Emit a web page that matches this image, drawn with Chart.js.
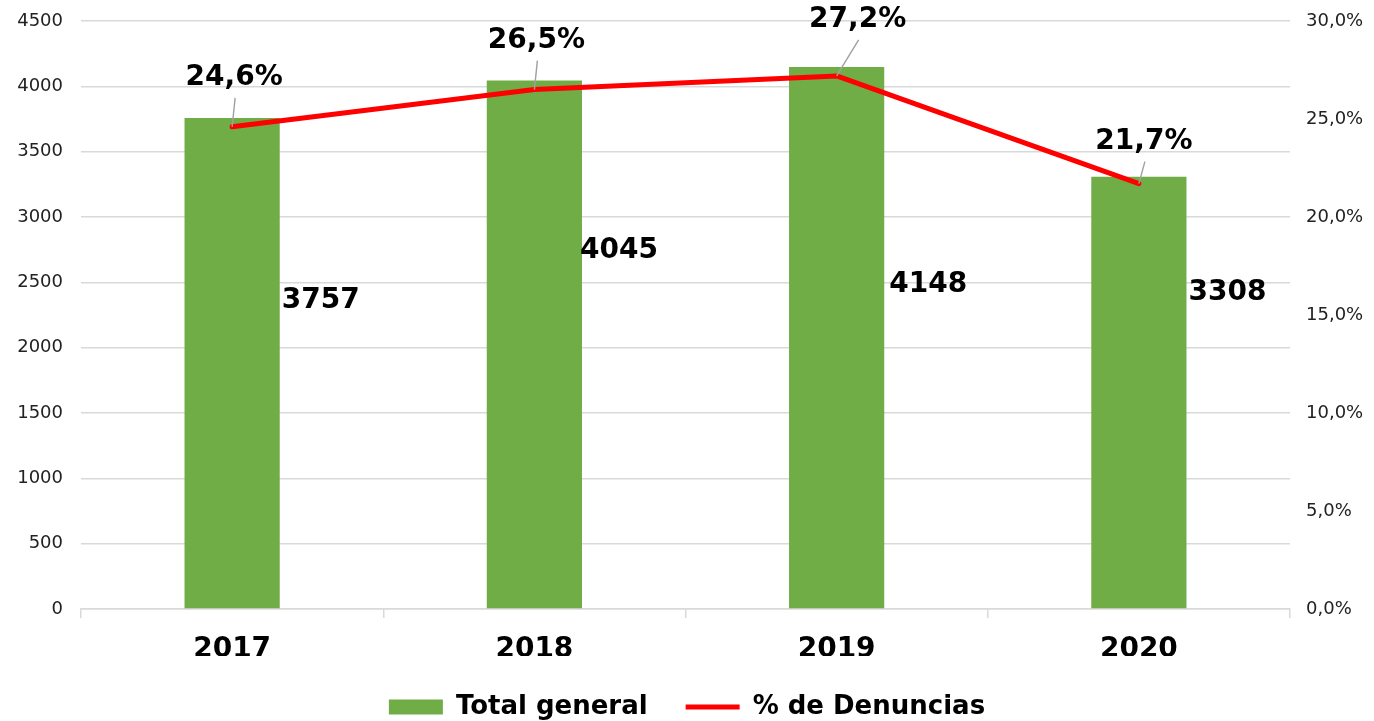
<!DOCTYPE html>
<html>
<head>
<meta charset="utf-8">
<script src="https://cdn.jsdelivr.net/npm/chart.js@4/dist/chart.umd.min.js"></script>
<style>
  html, body { margin: 0; padding: 0; background: #ffffff; }
  #wrap { width: 1374px; height: 721px; position: relative; }
</style>
</head>
<body>
<div id="wrap"><canvas id="chart"></canvas></div>
<script>
// Denuncias por año: total general (barras) y porcentaje (línea)
const years = ['2017', '2018', '2019', '2020'];
const totalGeneral = [3757, 4045, 4148, 3308];
const pctDenuncias = [24.6, 26.5, 27.2, 21.7];
const leftAxisMax = 4500;
const leftAxisStep = 500;
const rightAxisMax = 30;
const rightAxisStep = 5;

// Label placement (pixels): bar labels from bar's right edge / top,
// percentage labels from their line point.
const barLabelShift = [[2, 183], [-2, 170], [5, 218], [2, 116]];
const pctLabelShift = [[2, -49], [2, -49], [21, -56], [5, -42]];

const FONT = 'DejaVu Sans';

const fmtPct = v => v.toFixed(1).replace('.', ',') + '%';

// keep the tick padding from pushing the plot area down
const trimPadding = scale => { scale.paddingTop = 8; scale.paddingBottom = 8; };

const valueLabels = {
  id: 'valueLabels',
  afterDatasetsDraw(chart) {
    const ctx = chart.ctx;
    ctx.save();
    ctx.font = 'bold 28px "DejaVu Sans"';
    ctx.fillStyle = '#000000';
    ctx.textBaseline = 'middle';

    // bar values
    const barMeta = chart.getDatasetMeta(0);
    barMeta.data.forEach((bar, i) => {
      const right = bar.x + bar.width / 2;
      ctx.textAlign = 'left';
      ctx.fillText(String(totalGeneral[i]), right + barLabelShift[i][0], bar.y + barLabelShift[i][1]);
    });

    // percentage values with leader lines
    const lineMeta = chart.getDatasetMeta(1);
    lineMeta.data.forEach((pt, i) => {
      const lx = pt.x + pctLabelShift[i][0];
      const ly = pt.y + pctLabelShift[i][1];
      ctx.strokeStyle = '#a0a0a0';
      ctx.lineWidth = 1.4;
      ctx.beginPath();
      ctx.moveTo(pt.x, pt.y);
      ctx.lineTo(lx + 1, ly + 20);
      ctx.stroke();
      ctx.textAlign = 'center';
      ctx.fillText(fmtPct(pctDenuncias[i]), lx, ly);
    });
    ctx.restore();
  }
};

new Chart(document.getElementById('chart'), {
  type: 'bar',
  data: {
    labels: years,
    datasets: [
      {
        type: 'bar',
        label: 'Total general',
        data: totalGeneral,
        backgroundColor: '#70ad47',
        borderWidth: 0,
        barPercentage: 0.315,
        categoryPercentage: 1,
        yAxisID: 'y',
        pointStyle: 'rect',
        order: 2
      },
      {
        type: 'line',
        label: '% de Denuncias',
        data: pctDenuncias,
        borderColor: '#ff0000',
        backgroundColor: '#ff0000',
        borderWidth: 5,
        borderCapStyle: 'round',
        borderJoinStyle: 'round',
        pointRadius: 0,
        pointHoverRadius: 0,
        tension: 0,
        yAxisID: 'y1',
        pointStyle: 'line',
        order: 1
      }
    ]
  },
  options: {
    responsive: true,
    maintainAspectRatio: false,
    animation: false,
    layout: { autoPadding: false, padding: { top: 21, left: 0, right: 0, bottom: 0 } },
    plugins: {
      tooltip: { enabled: false },
      legend: {
        position: 'bottom',
        maxHeight: 65,
        labels: {
          usePointStyle: true,
          pointStyleWidth: 54,
          boxHeight: 15,
          padding: 38,
          color: '#000000',
          font: { family: FONT, size: 26, weight: 'bold' },
          sort: (a, b) => a.datasetIndex - b.datasetIndex
        }
      }
    },
    scales: {
      x: {
        offset: true,
        grid: {
          offset: true,
          drawOnChartArea: false,
          drawTicks: true,
          tickLength: 9,
          color: '#d9d9d9',
          lineWidth: 1.5
        },
        border: { color: '#d9d9d9', width: 1.5 },
        ticks: {
          color: '#000000',
          padding: 15,
          font: { family: FONT, size: 28, weight: 'bold' }
        },
        afterFit(scale) { scale.height = 47; }
      },
      y: {
        position: 'left',
        min: 0,
        max: leftAxisMax,
        grid: { color: '#d9d9d9', lineWidth: 1.5, drawTicks: false },
        border: { display: false },
        ticks: {
          stepSize: leftAxisStep,
          padding: 18,
          color: '#222222',
          font: { family: FONT, size: 18 },
          callback: v => String(v)
        },
        afterFit(scale) { scale.width = 81; trimPadding(scale); }
      },
      y1: {
        position: 'right',
        min: 0,
        max: rightAxisMax,
        grid: { drawOnChartArea: false, drawTicks: false },
        border: { display: false },
        ticks: {
          stepSize: rightAxisStep,
          padding: 16,
          color: '#222222',
          font: { family: FONT, size: 18 },
          callback: v => fmtPct(v)
        },
        afterFit(scale) { scale.width = 84; trimPadding(scale); }
      }
    }
  },
  plugins: [valueLabels]
});
</script>
</body>
</html>
